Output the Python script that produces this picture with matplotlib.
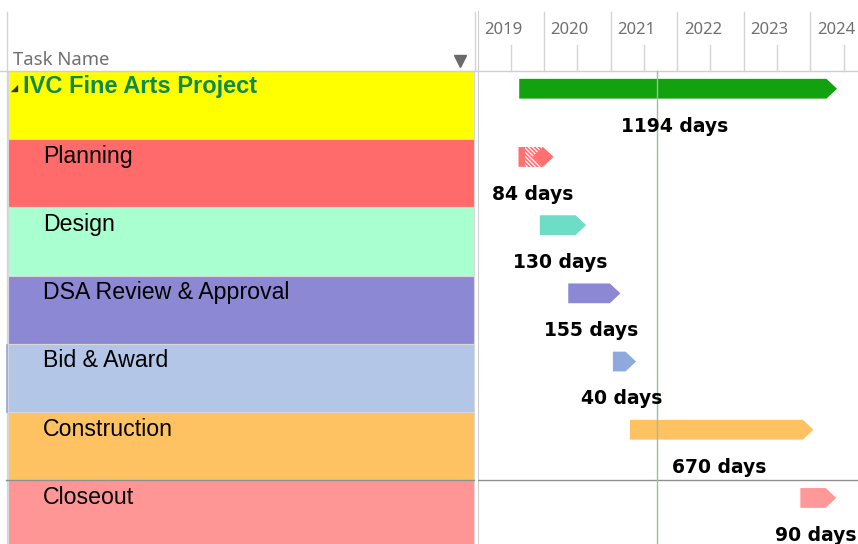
import matplotlib
matplotlib.use('Agg')
from matplotlib import pyplot as plt
from matplotlib.patches import Polygon, Rectangle
import matplotlib.dates as mdates
import pandas as pd

# tasks
tasks = ['IVC Fine Arts Project', 'Planning', 'Design', 'DSA Review & Approval',
         'Bid & Award', 'Construction', 'Closeout']
durations = ['1194 days', '84 days', '130 days', '155 days', '40 days', '670 days', '90 days']
starts = ['2019-08-17', '2019-08-13', '2019-12-08', '2020-05-12', '2021-01-12', '2021-04-16', '2023-11-07']
ends = ['2024-05-26', '2020-02-20', '2020-08-18', '2021-02-22', '2021-05-19', '2024-01-18', '2024-05-22']
row_colors = ['#FFFF00', '#FF6B6B', '#AAFFD1', '#8C88D4', '#B4C6E7', '#FFC262', '#FF9696']
bar_colors = ['#12A10F', '#FF7070', '#6EDDC5', '#8C88D4', '#8EA9DB', '#FFC262', '#FF9898']
years = [2019, 2020, 2021, 2022, 2023, 2024]
status_date = '2021-09-13'

W, H = 858, 544
ROW = 68.2          # row height in px
HDR = 71            # header height in px
SPLIT = 477.7       # left edge of the gantt in px

plt.rcParams['hatch.linewidth'] = 1.2

fig = plt.figure(figsize=(W / 100, H / 100), dpi=100)
ytop = -HDR / ROW
ybot = (H - HDR) / ROW

# ---------- left table ----------
tab = fig.add_axes([0, 0, SPLIT / W, 1])
tab.set_xlim(0, SPLIT)
tab.set_ylim(ybot, ytop)
tab.axis('off')

for i, name in enumerate(tasks):
    tab.add_patch(Rectangle((8.3, i), 474 - 8.3, 1, facecolor=row_colors[i],
                            edgecolor='#D8D8D8', lw=0.8))
    if i == 0:
        tab.text(23, i + 0.318, name, fontsize=17, fontweight='bold', color='#108A48',
                 family='Liberation Sans', va='baseline', ha='left')
    else:
        tab.text(43, i + 0.345, name, fontsize=16.7, color='black',
                 family='Liberation Sans', va='baseline', ha='left')

# collapse triangle and header
tab.plot([13.5], [0.25], marker=[(-1, -1), (1, -1), (1, 1)], ms=4, color='#333333', ls='none')
tab.text(13, -0.088, 'Task Name', fontsize=13.3, color='#707070', family='Noto Sans',
         va='baseline', ha='left')
tab.plot([460], [-0.15], marker='v', ms=8, color='#6A6A6A', ls='none')
tab.plot([7, 7], [-0.865, ybot], color='#D4D4D4', lw=1)
tab.plot([474.5, 474.5], [-0.865, 0], color='#D4D4D4', lw=1)
tab.plot([0, SPLIT], [0, 0], color='#CFCFCF', lw=1)
tab.plot([6, 474], [6.0, 6.0], color='#8F8F8F', lw=1)
tab.plot([7, 7], [4.02, 5.0], color='#8EA9DB', lw=1.2)

# ---------- gantt ----------
gx = fig.add_axes([SPLIT / W, 0, 1 - SPLIT / W, 1])
x0 = mdates.date2num(pd.Timestamp('2019-01-01'))
days_per_px = (mdates.date2num(pd.Timestamp('2020-01-01')) - x0) / 66.5
x1 = x0 + (W - SPLIT) * days_per_px
gx.set_xlim(x0, x1)
gx.set_ylim(ybot, ytop)
gx.axis('off')

tip = 10.5 * days_per_px
for i in range(len(tasks)):
    s = mdates.date2num(pd.Timestamp(starts[i]))
    e = mdates.date2num(pd.Timestamp(ends[i]))
    t, b = i + 0.115, i + 0.405
    m = (t + b) / 2
    gx.add_patch(Polygon([(s, t), (e - tip, t), (e, m), (e - tip, b), (s, b)],
                         closed=True, facecolor=bar_colors[i], edgecolor='none'))
    if i == 1:
        # hatched part of the planning bar, with the diamond over its end
        gx.add_patch(Rectangle((s + 6 * days_per_px, t), e - tip - s - 6 * days_per_px, b - t,
                               facecolor='white', edgecolor=bar_colors[i],
                               hatch='\\\\\\\\\\\\\\\\', lw=0))
        gx.add_patch(Polygon([(e - 2 * tip, m), (e - tip, t), (e, m), (e - tip, b)],
                             closed=True, facecolor=bar_colors[i], edgecolor='none'))
    gx.annotate(durations[i], ((s + e) / 2, i + 0.89), xytext=(-3, 0),
                textcoords='offset pixels', ha='center', va='baseline',
                fontsize=13.5, fontweight='bold', family='DejaVu Sans', color='black')

# timescale header
for y in years:
    ys = mdates.date2num(pd.Timestamp(f'{y}-01-01'))
    if y > years[0]:
        gx.plot([ys, ys], [-0.865, 0], color='#D4D4D4', lw=1)
    ym = mdates.date2num(pd.Timestamp(f'{y}-07-01'))
    gx.plot([ym, ym], [-0.38, 0], color='#D4D4D4', lw=1)
    gx.annotate(str(y), (ys, -0.543), xytext=(6.5, 0), textcoords='offset pixels',
                ha='left', va='baseline', fontsize=12, color='#707070', family='Noto Sans')

gx.plot([x0, x1], [0, 0], color='#CFCFCF', lw=1)
gx.plot([x0, x0], [-0.865, ybot], color='#CFCFCF', lw=1.5)
gx.plot([x0, x1], [6.0, 6.0], color='#8F8F8F', lw=1)
sd = mdates.date2num(pd.Timestamp(status_date))
gx.plot([sd, sd], [0, ybot], color='#9CBF9C', lw=1)

plt.savefig('out.png', dpi=100)
